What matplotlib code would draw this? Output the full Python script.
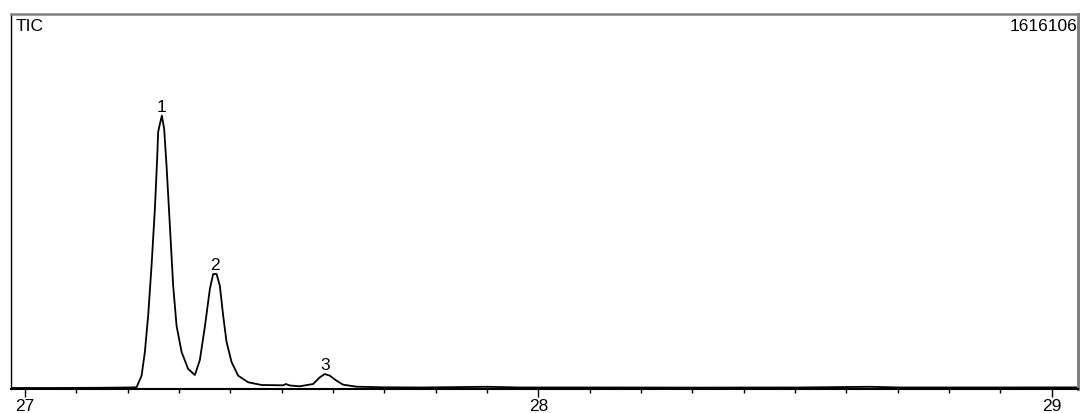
import matplotlib
matplotlib.use('Agg')
import matplotlib.pyplot as plt
from matplotlib.ticker import MultipleLocator

# Total ion chromatogram trace: retention time (min) vs. intensity (counts)
time_min = [26.973, 27.068, 27.146, 27.204, 27.2175, 27.2273, 27.2337, 27.2401,
            27.2467, 27.2532, 27.2576, 27.2596, 27.2629, 27.2668, 27.2713, 27.2759,
            27.2824, 27.2888, 27.2954, 27.3052, 27.3180, 27.3311, 27.3408, 27.3505,
            27.3603, 27.3667, 27.3733, 27.3797, 27.3862, 27.3928, 27.4025, 27.4154,
            27.4349, 27.4610, 27.5030, 27.5083, 27.5161, 27.5355, 27.5614, 27.5745,
            27.5842, 27.5940, 27.6070, 27.6199, 27.6460, 27.6978, 27.769, 27.900,
            27.964, 28.120, 28.315, 28.509, 28.646, 28.704, 28.899, 29.051]
intensity = [4300, 4300, 5200, 6500, 7300, 57300, 159500, 315900,
             531400, 775700, 991200, 1107600, 1142000, 1177800, 1120500, 962300,
             703800, 445200, 272800, 159500, 86200, 60300, 125000, 267200,
             431000, 495600, 495600, 445200, 315900, 202600, 116400, 57300,
             28900, 17200, 15900, 21500, 15100, 11600, 21500, 50400,
             64600, 57300, 35800, 18500, 9900, 7300, 6500, 9500,
             6500, 6500, 6000, 6500, 9500, 6500, 6500, 6900]

# Labelled peaks: (label, apex time, apex intensity)
peak_labels = ['1', '2', '3']
peak_times = [27.2668, 27.3700, 27.5842]
peak_heights = [1177800, 495600, 64600]

max_intensity = 1616106
signal_name = 'TIC'

plt.rcParams['font.family'] = ['Liberation Sans', 'DejaVu Sans']

fig = plt.figure(figsize=(10.8, 4.14), dpi=100)
ax = fig.add_axes([0.0102, 0.058, 0.9879, 0.9058])

ax.plot(time_min, intensity, color='black', lw=1.3, solid_joinstyle='round')

for lab, t, h in zip(peak_labels, peak_times, peak_heights):
    ax.annotate(lab, (t, h), xytext=(0, 1.5), textcoords='offset points',
                ha='center', va='bottom', fontsize=12.5)

ax.text(0.004, 0.99, signal_name, transform=ax.transAxes, ha='left', va='top', fontsize=12.5)
ax.text(0.9995, 0.99, str(max_intensity), transform=ax.transAxes, ha='right', va='top', fontsize=12.5)

ax.set_xlim(26.973, 29.051)
ax.set_ylim(0, max_intensity)
ax.xaxis.set_major_locator(MultipleLocator(1))
ax.xaxis.set_minor_locator(MultipleLocator(0.1))
ax.tick_params(axis='x', which='major', direction='out', length=6, width=1, pad=0.5, labelsize=12.5)
ax.tick_params(axis='x', which='minor', direction='out', length=3, width=1)
ax.set_yticks([])

ax.spines['top'].set_color('#808080')
ax.spines['top'].set_linewidth(1.8)
ax.spines['right'].set_color('#808080')
ax.spines['right'].set_linewidth(2.2)
ax.spines['left'].set_linewidth(1.0)
ax.spines['bottom'].set_linewidth(1.5)

fig.savefig('out.png', dpi=100)
